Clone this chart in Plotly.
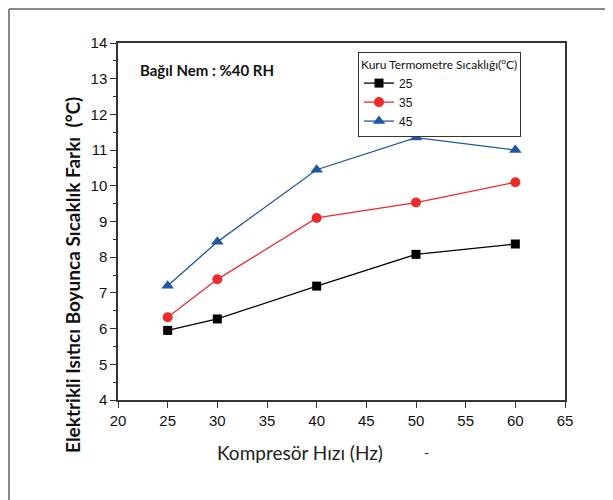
import plotly.graph_objects as go

speed_hz = [25, 30, 40, 50, 60]
temp_25 = [5.95, 6.27, 7.19, 8.08, 8.37]
temp_35 = [6.32, 7.38, 9.10, 9.53, 10.10]
temp_45 = [7.20, 8.43, 10.45, 11.35, 11.00]
series_names = ["25", "35", "45"]

fig = go.Figure()
styles = [
    dict(color="black", symbol="square", size=9),
    dict(color="#ee2a2a", symbol="circle", size=10),
    dict(color="#2156a6", symbol="triangle-up", size=11),
]
for name, vals, st in zip(series_names, [temp_25, temp_35, temp_45], styles):
    fig.add_trace(go.Scatter(
        x=speed_hz, y=vals, name=name, mode="lines+markers",
        line=dict(color=st["color"], width=1.3),
        marker=dict(color=st["color"], symbol=st["symbol"], size=st["size"]),
    ))

def px(xp):
    return (xp - 118) / 447

def py(yp):
    return (400 - yp) / 357

tickfont = dict(family="Liberation Sans, Arial", size=15, color="#111")
fig.update_layout(
    width=613, height=500,
    margin=dict(l=110, r=56, t=35, b=108),
    paper_bgcolor="white", plot_bgcolor="white",
    showlegend=True,
    legend=dict(
        title=dict(text="Kuru Termometre Sıcaklığı(<sup>o</sup>C)",
                   font=dict(family="Lato, Liberation Sans", size=12, color="#111"),
                   side="top"),
        font=dict(family="Liberation Sans, Arial", size=12, color="#111"),
        x=px(358), y=py(52), xanchor="left", yanchor="top",
        bordercolor="#333", borderwidth=1, bgcolor="white",
        itemwidth=30, tracegroupgap=0,
    ),
    xaxis=dict(
        range=[20, 65], tickvals=[20, 25, 30, 35, 40, 45, 50, 55, 60, 65],
        showgrid=False, zeroline=False, showline=True, linecolor="#333", linewidth=1.5,
        mirror=True, ticks="outside", ticklen=6, tickcolor="#333", tickfont=tickfont,
    ),
    yaxis=dict(
        range=[4, 14], dtick=1,
        showgrid=False, zeroline=False, showline=True, linecolor="#333", linewidth=1.5,
        mirror=True, ticks="outside", ticklen=6, tickcolor="#333", tickfont=tickfont,
        minor=dict(dtick=0.5, ticks="outside", ticklen=3, tickcolor="#333"),
    ),
)

fig.add_annotation(xref="paper", yref="paper", x=px(72), y=py(275), textangle=-90,
                   xanchor="center", yanchor="middle", showarrow=False,
                   text="<b>Elektrikli Isıtıcı Boyunca Sıcaklık Farkı  (°C)</b>",
                   font=dict(family="Lato, Liberation Sans", size=19, color="#111"))
fig.add_annotation(xref="paper", yref="paper", x=px(300), y=py(452),
                   xanchor="center", yanchor="middle", showarrow=False,
                   text="Kompresör Hızı (Hz)",
                   font=dict(family="Lato, Liberation Sans", size=19, color="#222"))
fig.add_annotation(xref="paper", yref="paper", x=px(138), y=py(70),
                   xanchor="left", yanchor="middle", showarrow=False,
                   text="<b>Bağıl Nem : %40 RH</b>",
                   font=dict(family="Lato, Liberation Sans", size=15, color="#111"))
fig.add_annotation(xref="paper", yref="paper", x=px(426), y=py(452),
                   xanchor="center", yanchor="middle", showarrow=False, text="-",
                   font=dict(family="Lato, Liberation Sans", size=14, color="#222"))

# outer frame of the figure (left and top edges)
fig.add_shape(type="line", xref="paper", yref="paper",
              x0=px(9), x1=px(9), y0=py(9), y1=py(520),
              line=dict(color="#888", width=2))
fig.add_shape(type="line", xref="paper", yref="paper",
              x0=px(9), x1=px(640), y0=py(9), y1=py(9),
              line=dict(color="#888", width=2))

fig.write_html("out.html")
